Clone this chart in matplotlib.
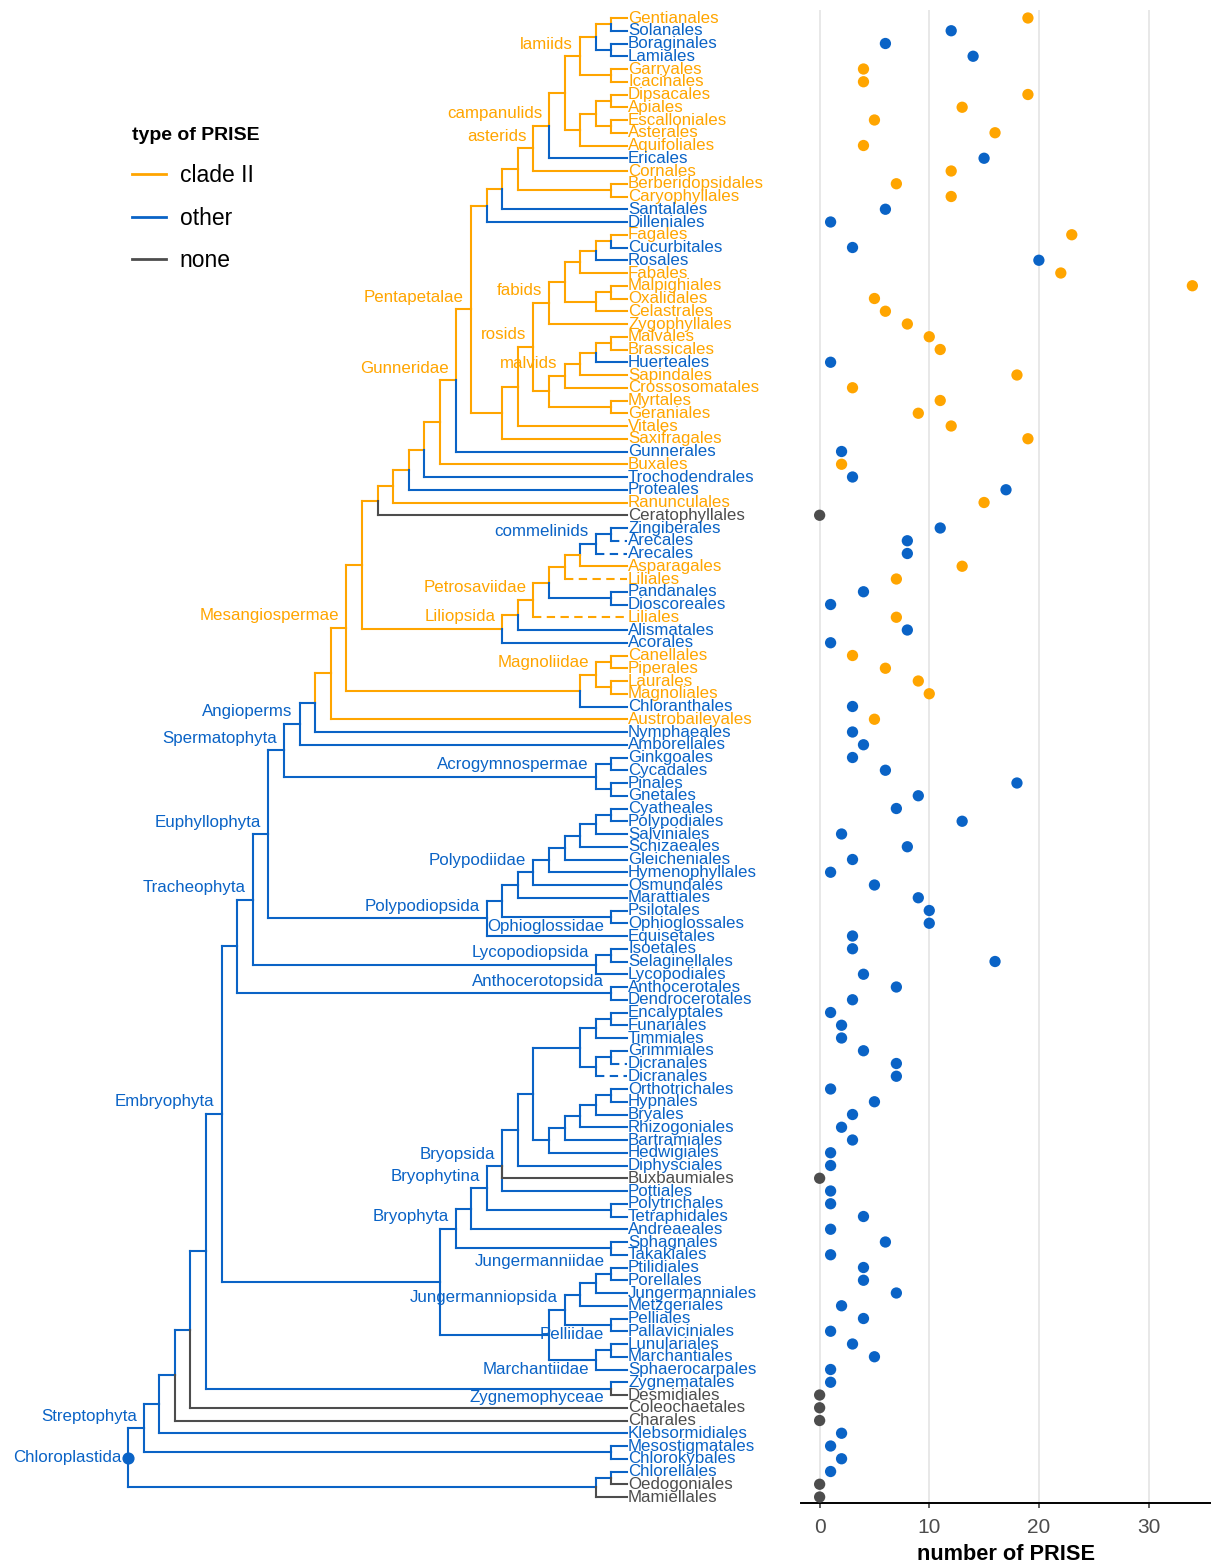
import matplotlib
matplotlib.use('Agg')
import matplotlib.pyplot as plt
from matplotlib.lines import Line2D

plt.rcParams['font.family'] = ['Liberation Sans', 'DejaVu Sans']

# ---------------------------------------------------------------------------
# phylogeny of orders (newick pieces, internal names = clade labels)
# ---------------------------------------------------------------------------
lamiids = "(((Gentianales,Solanales),(Boraginales,Lamiales)),(Garryales,Icacinales))lamiids"
campan = "(((Dipsacales,Apiales),(Escalloniales,Asterales)),Aquifoliales)"
asterids = f"((({lamiids},{campan}),Ericales)campanulids,Cornales)asterids"
superasterids = f"((({asterids},(Berberidopsidales,Caryophyllales)),Santalales),Dilleniales)"
fabids = "(((((Fagales,Cucurbitales),Rosales),Fabales),((Malpighiales,Oxalidales),Celastrales)),Zygophyllales)fabids"
malvids = "((((Malvales,Brassicales),Huerteales),Sapindales),Crossosomatales)malvids"
rosids = f"({fabids},({malvids},(Myrtales,Geraniales)))rosids"
pentapetalae = f"({superasterids},(({rosids},Vitales),Saxifragales))Pentapetalae"
eudicots = f"(((((({pentapetalae},Gunnerales)Gunneridae,Buxales),Trochodendrales),Proteales),Ranunculales),Ceratophyllales)"
commelinids = "((Zingiberales,Arecales),Arecales)commelinids"
monocots = f"(((((({commelinids},Asparagales),Liliales),(Pandanales,Dioscoreales)),Liliales)Petrosaviidae,Alismatales),Acorales)Liliopsida"
magnoliids = "(((Canellales,Piperales),(Laurales,Magnoliales))Magnoliidae,Chloranthales)"
angio = f"((((({eudicots},{monocots}),{magnoliids})Mesangiospermae,Austrobaileyales),Nymphaeales),Amborellales)Angioperms"
gymno = "((Ginkgoales,Cycadales),(Pinales,Gnetales))Acrogymnospermae"
ferns = ("(((((((((Cyatheales,Polypodiales),Salviniales),Schizaeales),Gleicheniales),Hymenophyllales),"
         "Osmundales)Polypodiidae,Marattiales),(Psilotales,Ophioglossales)Ophioglossidae),Equisetales)Polypodiopsida")
lycophytes = "((Isoetales,Selaginellales),Lycopodiales)Lycopodiopsida"
tracheo = f"((({angio},{gymno})Spermatophyta,{ferns})Euphyllophyta,{lycophytes})Tracheophyta"
hornworts = "(Anthocerotales,Dendrocerotales)Anthocerotopsida"
moss_a = "(((Encalyptales,Funariales),Timmiales),((Grimmiales,Dicranales),Dicranales))"
moss_b = "(((((Orthotrichales,Hypnales),Bryales),Rhizogoniales),Bartramiales),Hedwigiales)"
bryopsida = f"((({moss_a},{moss_b}),Diphysciales),Buxbaumiales,Pottiales)Bryopsida"
mosses = f"((({bryopsida},(Polytrichales,Tetraphidales))Bryophytina,Andreaeales),(Sphagnales,Takakiales))Bryophyta"
liverworts = ("(((((Ptilidiales,Porellales)Jungermanniidae,Jungermanniales),Metzgeriales),"
              "(Pelliales,Pallaviciniales)Pelliidae)Jungermanniopsida,"
              "((Lunulariales,Marchantiales),Sphaerocarpales)Marchantiidae)")
embryo = f"(({tracheo},{hornworts}),({mosses},{liverworts}))Embryophyta"
strepto = (f"((((({embryo},(Zygnematales,Desmidiales)Zygnemophyceae),Coleochaetales),Charales),"
           "Klebsormidiales),(Mesostigmatales,Chlorokybales))Streptophyta")
tree_newick = f"({strepto},((Chlorellales,Oedogoniales),Mamiellales))Chloroplastida;"

# per order, top to bottom: c = clade II, o = other, n = none
prise_type = list(
    "coooccccccco"      # Gentianales .. Ericales
    "cccoo"             # Cornales .. Dilleniales
    "coocccccccoccccc"  # Fagales .. Vitales
    "cocoocn"           # Saxifragales .. Ceratophyllales
    "ooocco" "ocoo"     # Zingiberales .. Acorales
    "ccccoc"            # Canellales .. Austrobaileyales
    "oooooo"            # Nymphaeales .. Gnetales
    "oooooooooooooooo"  # Cyatheales .. Dendrocerotales
    "ooooooooooooo" "n" # Encalyptales .. Buxbaumiales
    "oooooooooooooooo"  # Pottiales .. Zygnematales
    "nnno" "ooo" "nn"   # Desmidiales .. Mamiellales
)

n_prise = [19, 12, 6, 14, 4, 4, 19, 13, 5, 16, 4, 15,
           12, 7, 12, 6, 1,
           23, 3, 20, 22, 34, 5, 6, 8, 10, 11, 1, 18, 3, 11, 9, 12,
           19, 2, 2, 3, 17, 15, 0,
           11, 8, 8, 13, 7, 4, 1, 7, 8, 1,
           3, 6, 9, 10, 3, 5,
           3, 4, 3, 6, 18, 9,
           7, 13, 2, 8, 3, 1, 5, 9, 10, 10, 3, 3, 16, 4, 7, 3,
           1, 2, 2, 4, 7, 7, 1, 5, 3, 2, 3, 1, 1, 0,
           1, 1, 4, 1, 6, 1, 4, 4, 7, 2, 4, 1, 3, 5, 1, 1,
           0, 0, 0, 2, 1, 2, 1, 0, 0]

type_names = {'c': 'clade II', 'o': 'other', 'n': 'none'}
type_colors = {'c': '#FFA500', 'o': '#0A63C6', 'n': '#4D4D4D'}

# clade labels drawn under their branch instead of above it
labels_below = ['Ophioglossidae', 'Pelliidae', 'Marchantiidae', 'Zygnemophyceae']


# ---------------------------------------------------------------------------
def parse_newick(s):
    s = s.strip().rstrip(';')
    pos = 0

    def read():
        nonlocal pos
        kids = []
        if s[pos] == '(':
            pos += 1
            kids.append(read())
            while s[pos] == ',':
                pos += 1
                kids.append(read())
            assert s[pos] == ')'
            pos += 1
        start = pos
        while pos < len(s) and s[pos] not in ',()':
            pos += 1
        node = {'name': s[start:pos], 'children': kids, 'parent': None}
        for k in kids:
            k['parent'] = node
        return node
    tr = read()
    assert pos == len(s)
    return tr


root = parse_newick(tree_newick)

nodes = []
def walk(nd):
    nodes.append(nd)
    for k in nd['children']:
        walk(k)
walk(root)
tips = [nd for nd in nodes if not nd['children']]
assert len(tips) == len(prise_type) == len(n_prise)

for i, t in enumerate(tips):
    t['y'] = i + 1
    t['type'] = prise_type[i]

def layout(nd):
    if not nd['children']:
        nd['h'] = 0
        nd['tips'] = [nd]
        return
    for k in nd['children']:
        layout(k)
    nd['h'] = 1 + max(k['h'] for k in nd['children'])
    nd['y'] = sum(k['y'] for k in nd['children']) / len(nd['children'])
    nd['tips'] = [t for k in nd['children'] for t in k['tips']]
layout(root)
for nd in nodes:
    nd['x'] = -nd['h']

# internal colour: clade II inside the clade holding all clade II orders
c2_tips = {id(t) for t in tips if t['type'] == 'c'}
origin = min((nd for nd in nodes if nd['children'] and c2_tips <= {id(t) for t in nd['tips']}),
             key=lambda nd: len(nd['tips']))
def in_clade(nd, anc):
    while nd is not None:
        if nd is anc:
            return True
        nd = nd['parent']
    return False
for nd in nodes:
    if nd['children']:
        has_c2 = any(t['type'] == 'c' for t in nd['tips'])
        nd['type'] = 'c' if (has_c2 and in_clade(nd, origin)) else 'o'

tip_names = [t['name'] for t in tips]
dup = {n for n in tip_names if tip_names.count(n) > 1}

# ---------------------------------------------------------------------------
W, H = 1211, 1566
fig = plt.figure(figsize=(W / 100, H / 100), dpi=100)
y_top, y_bot = 0.3725, 117.47
ax_b, ax_h = (H - 1503) / H, (1503 - 10) / H
ax = fig.add_axes([0, ax_b, 800 / W, ax_h])
ax2 = fig.add_axes([801 / W, ax_b, (W - 801) / W, ax_h])

step = 15.59
ax.set_xlim(-627 / step, 173 / step)
ax.set_ylim(y_bot, y_top)
ax.axis('off')

lw = 1.5
for nd in nodes:
    par = nd['parent']
    if par is None:
        continue
    col = type_colors[nd['type']]
    z = 3 if nd['type'] == 'n' else 2
    dashed = (not nd['children']) and nd['name'] in dup
    ax.plot([par['x'], par['x']], [par['y'], nd['y']], color=col, lw=lw,
            solid_capstyle='projecting', zorder=z)
    if dashed:
        ax.plot([par['x'], nd['x']], [nd['y'], nd['y']], color=col, lw=lw,
                dashes=(4, 2.6), dash_capstyle='butt', zorder=z)
    else:
        ax.plot([par['x'], nd['x']], [nd['y'], nd['y']], color=col, lw=lw,
                solid_capstyle='projecting', zorder=z)

fs = 12.2
for t in tips:
    ax.text(t['x'] + 0.07, t['y'], t['name'], ha='left', va='center',
            fontsize=fs, color=type_colors[t['type']])

for nd in nodes:
    if not nd['children'] or not nd['name']:
        continue
    if nd is root:
        dy = 0
    elif nd['name'] in labels_below:
        dy = 0.72
    else:
        dy = -0.95
    ax.text(nd['x'] - 0.45, nd['y'] + dy, nd['name'], ha='right', va='center',
            fontsize=fs, color=type_colors[nd['type']])

ax.scatter([root['x']], [root['y']], s=60, color=type_colors[root['type']], zorder=4)

# ---------------------------------------------------------------------------
ax2.scatter(n_prise, [t['y'] for t in tips], s=66,
            c=[type_colors[c] for c in prise_type], zorder=3, clip_on=False,
            linewidths=0)
ax2.set_xlim(-1.7, 35.7)
ax2.set_ylim(y_bot, y_top)
ax2.set_xticks([0, 10, 20, 30])
ax2.set_yticks([])
ax2.grid(axis='x', color='#E2E2E2', lw=1.1)
ax2.set_axisbelow(True)
for s in ['left', 'top', 'right']:
    ax2.spines[s].set_visible(False)
ax2.spines['bottom'].set_linewidth(1.4)
ax2.tick_params(axis='x', length=3.6, width=1.1, color='#333333',
                labelsize=15, labelcolor='#4D4D4D', pad=7)
ax2.set_xlabel('number of PRISE', fontsize=15.7, fontweight='bold', labelpad=5.5)

handles = [Line2D([], [], color=type_colors[k], lw=2) for k in ['c', 'o', 'n']]
fig.legend(handles, [type_names[k] for k in ['c', 'o', 'n']], title='type of PRISE',
           loc='upper left', bbox_to_anchor=(123 / W, 1 - 118 / H), frameon=False,
           fontsize=16.5, title_fontproperties={'weight': 'bold', 'size': 14},
           alignment='left', handlelength=1.48, handletextpad=0.6,
           labelspacing=0.86, borderaxespad=0)

fig.savefig('out.png', dpi=100)
